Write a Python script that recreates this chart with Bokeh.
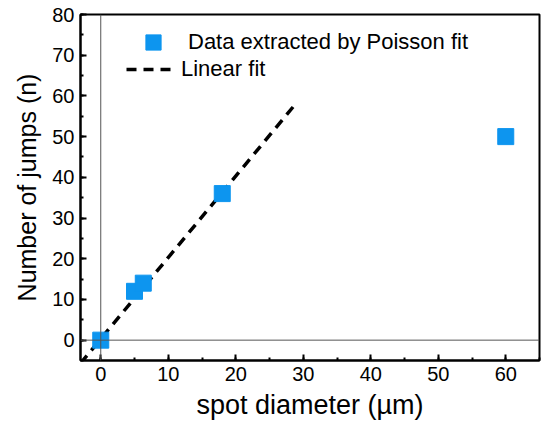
from bokeh.plotting import figure
from bokeh.models import Span, Legend, LegendItem, SingleIntervalTicker, Range1d
from bokeh.embed import file_html
from bokeh.resources import INLINE

diameter = [0, 5, 6.3, 18, 60]
jumps = [0, 12, 14, 36, 50]
fit_x = [-3, 29]
fit_y = [-5.7, 58.3]

FONT = "Liberation Sans"
p = figure(width=541, height=422, output_backend="svg", toolbar_location=None,
           x_range=Range1d(-3, 65), y_range=Range1d(-5, 80),
           min_border_left=80, min_border_right=2, min_border_top=14, min_border_bottom=62)
p.grid.visible = False
p.outline_line_color = "black"
p.outline_line_width = 2

p.add_layout(Span(location=0, dimension="width", line_color="#555555", line_width=1))
p.add_layout(Span(location=0, dimension="height", line_color="#555555", line_width=1))

r_fit = p.line(fit_x, fit_y, line_color="black", line_width=3.5, line_dash="10 7")
r_pts = p.scatter(diameter, jumps, marker="square", size=16, fill_color="#0d95ef", line_color="#0d95ef")

for ax, lab, fs in ((p.xaxis[0], "spot diameter (µm)", "27px"), (p.yaxis[0], "Number of jumps (n)", "25px")):
    ax.axis_label = lab
    ax.axis_label_text_font = FONT
    ax.axis_label_text_font_size = fs
    ax.axis_label_text_font_style = "normal"
    ax.axis_label_text_color = "black"
    ax.major_label_text_font = FONT
    ax.major_label_text_font_size = "20px"
    ax.major_label_text_color = "black"
    ax.axis_line_width = 2
    ax.axis_line_color = "black"
    ax.major_tick_in = 6
    ax.major_tick_out = 0
    ax.minor_tick_in = 3
    ax.minor_tick_out = 0
    ax.major_tick_line_width = 2
    ax.minor_tick_line_width = 2
    ax.major_tick_line_color = "black"
    ax.minor_tick_line_color = "black"
p.xaxis[0].ticker = SingleIntervalTicker(interval=10, num_minor_ticks=2)
p.yaxis[0].ticker = SingleIntervalTicker(interval=10, num_minor_ticks=2)
p.xaxis[0].major_label_standoff = 6
p.xaxis[0].axis_label_standoff = 6
p.yaxis[0].major_label_standoff = 6
p.yaxis[0].axis_label_standoff = 8

common = dict(border_line_color=None, background_fill_alpha=0, padding=0, margin=0,
              label_text_font=FONT, label_text_font_size="22px", label_text_color="black")
legend1 = Legend(items=[LegendItem(label="Data extracted by Poisson fit", renderers=[r_pts])],
                 location=(53, 299), glyph_width=40, glyph_height=38, label_standoff=15, **common)
legend2 = Legend(items=[LegendItem(label="Linear fit", renderers=[r_fit])],
                 location=(46, 278), glyph_width=47, glyph_height=26, label_standoff=8, **common)
p.add_layout(legend1)
p.add_layout(legend2)

open("out.html", "w").write(file_html(p, INLINE))
